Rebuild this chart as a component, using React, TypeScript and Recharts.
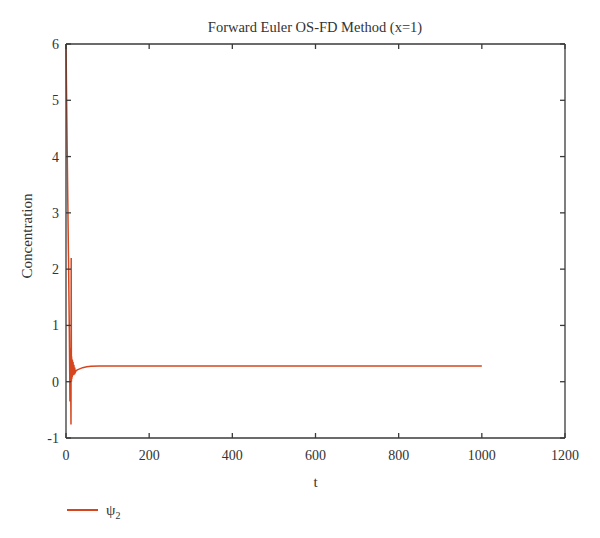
import React from 'react';
import { LineChart, Line, XAxis, YAxis } from 'recharts';

const timeValues = [0, 2, 4, 6, 8, 9, 9.5, 10, 10.5, 11, 11.5, 12, 12.5, 13, 13.5, 14, 14.5, 15, 15.5, 16, 17, 18, 19, 20, 21, 22, 24, 27, 30, 40, 50, 60, 80, 100, 200, 400, 600, 800, 1000];
const psi2Values = [6.0, 4.7, 3.4, 2.2, 0.9, 0.1, -0.35, 0.5, 0.0, 0.6, -0.2, -0.76, 2.2, 0.0, 0.45, 0.05, 0.4, 0.08, 0.38, 0.1, 0.35, 0.12, 0.3, 0.14, 0.25, 0.16, 0.19, 0.21, 0.22, 0.25, 0.265, 0.273, 0.279, 0.28, 0.28, 0.28, 0.28, 0.28, 0.28];
const xTicks = [0, 200, 400, 600, 800, 1000, 1200];
const yTicks = [-1, 0, 1, 2, 3, 4, 5, 6];

const data = timeValues.map((t, i) => ({ t, psi2: psi2Values[i] }));

const FONT = '"Liberation Serif", "DejaVu Serif", serif';
const AXIS = '#3a3a3a';
const LINE = '#d5461e';

const NoLabel = () => <g />;

export default function App() {
  return (
    <div style={{ position: 'absolute', left: 0, top: 0, width: 600, height: 538, background: '#fff', fontFamily: FONT }}>
      <LineChart width={600} height={538} data={data} margin={{ top: 34, right: 25, left: 26, bottom: 70 }}>
        <XAxis
          dataKey="t"
          type="number"
          domain={[0, 1200]}
          ticks={xTicks}
          height={30}
          stroke={AXIS}
          strokeWidth={1.3}
          tickSize={-5}
          tickMargin={17}
          tick={{ fill: '#333', fontSize: 14, fontFamily: FONT }}
          label={{ value: 't', position: 'bottom', offset: 8, fill: '#333', fontSize: 15, fontFamily: FONT }}
        />
        <XAxis
          xAxisId="top"
          dataKey="t"
          type="number"
          orientation="top"
          domain={[0, 1200]}
          ticks={xTicks}
          height={10}
          stroke={AXIS}
          strokeWidth={1.3}
          tickSize={-5}
          tick={NoLabel}
        />
        <YAxis
          type="number"
          domain={[-1, 6]}
          ticks={yTicks}
          width={40}
          stroke={AXIS}
          strokeWidth={1.3}
          tickSize={-5}
          tickMargin={12}
          tick={{ fill: '#333', fontSize: 14, fontFamily: FONT }}
          label={{
            content: (props: any) => {
              const vb = props.viewBox || { x: 26, y: 44, height: 394 };
              const cx = vb.x + 1;
              const cy = vb.y + vb.height / 2 - 5;
              return (
                <text x={cx} y={cy} transform={`rotate(-90, ${cx}, ${cy})`} textAnchor="middle" dominantBaseline="central" fill="#333" fontSize={15} fontFamily={FONT}>
                  Concentration
                </text>
              );
            },
          }}
        />
        <YAxis
          yAxisId="right"
          type="number"
          orientation="right"
          domain={[-1, 6]}
          ticks={yTicks}
          width={10}
          stroke={AXIS}
          strokeWidth={1.3}
          tickSize={-5}
          tick={NoLabel}
        />
        <Line type="linear" dataKey="psi2" stroke={LINE} strokeWidth={1.5} dot={false} isAnimationActive={false} />
        <Line type="linear" dataKey="psi2" xAxisId="top" yAxisId="right" stroke="none" strokeWidth={0} dot={false} legendType="none" isAnimationActive={false} />
      </LineChart>
      <div style={{ position: 'absolute', left: 0, top: 17, width: 630, textAlign: 'center', fontSize: 14.5, color: '#333', lineHeight: '20px' }}>
        Forward Euler OS-FD Method (x=1)
      </div>
      <div style={{ position: 'absolute', left: 67, top: 509, width: 31, height: 2, background: LINE }} />
      <div style={{ position: 'absolute', left: 106, top: 500, fontSize: 15, color: '#333', lineHeight: '20px' }}>
        ψ<sub style={{ fontSize: 10 }}>2</sub>
      </div>
    </div>
  );
}
